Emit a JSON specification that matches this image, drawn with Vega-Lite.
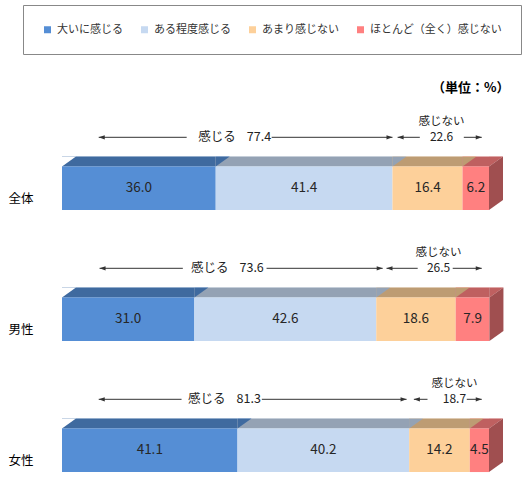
{
  "$schema": "https://vega.github.io/schema/vega-lite/v6.json",
  "autosize": "none",
  "padding": {"left": 62, "top": 100, "right": 34, "bottom": 0},
  "width": 427,
  "height": 385,
  "background": "white",
  "title": {
    "text": "（単位：%）",
    "anchor": "end",
    "fontSize": 13,
    "fontWeight": "bold",
    "font": "Noto Sans CJK JP",
    "color": "#000000",
    "offset": -90,
    "dx": -12
  },
  "config": {
    "view": {"stroke": null},
    "font": "Noto Sans CJK JP"
  },
  "datasets": {
    "bars": [
      {"g": "全体", "c": "大いに感じる", "v": 36.0},
      {"g": "全体", "c": "ある程度感じる", "v": 41.4},
      {"g": "全体", "c": "あまり感じない", "v": 16.4},
      {"g": "全体", "c": "ほとんど（全く）感じない", "v": 6.2},
      {"g": "男性", "c": "大いに感じる", "v": 31.0},
      {"g": "男性", "c": "ある程度感じる", "v": 42.6},
      {"g": "男性", "c": "あまり感じない", "v": 18.6},
      {"g": "男性", "c": "ほとんど（全く）感じない", "v": 7.9},
      {"g": "女性", "c": "大いに感じる", "v": 41.1},
      {"g": "女性", "c": "ある程度感じる", "v": 40.2},
      {"g": "女性", "c": "あまり感じない", "v": 14.2},
      {"g": "女性", "c": "ほとんど（全く）感じない", "v": 4.5}
    ],
    "notes": [
      {"g": "全体", "k": "感じる", "v": 77.4, "a": 8.6, "s1": 29.2, "s2": 49.1, "b": 77.4, "tx": 41.2},
      {"g": "全体", "k": "感じない", "v": 22.6, "a": 78.6, "s1": 83.8, "s2": 94.1, "b": 98.3, "tx": 88.9},
      {"g": "男性", "k": "感じる", "v": 73.6, "a": 8.8, "s1": 28.3, "s2": 47.9, "b": 75.1, "tx": 39.5},
      {"g": "男性", "k": "感じない", "v": 26.5, "a": 76.0, "s1": 83.3, "s2": 91.5, "b": 98.3, "tx": 88.2},
      {"g": "女性", "k": "感じる", "v": 81.3, "a": 8.6, "s1": 28.0, "s2": 46.8, "b": 80.7, "tx": 38.8},
      {"g": "女性", "k": "感じない", "v": 18.7, "a": 82.4, "s1": 85.6, "s2": 94.8, "b": 98.3, "tx": 91.9}
    ]
  },
  "encoding": {
    "y": {
      "field": "g",
      "type": "nominal",
      "scale": {"domain": ["全体", "男性", "女性"], "range": [22.8, 415.8], "paddingInner": 0, "paddingOuter": 0},
      "axis": {
        "title": null,
        "domain": false,
        "ticks": false,
        "grid": false,
        "labelPadding": 29,
        "labelOffset": 10.5,
        "labelFontSize": 12.5,
        "labelFontWeight": "normal",
        "labelFont": "Noto Sans CJK JP",
        "labelColor": "#000000"
      }
    }
  },
  "layer": [
    {
      "data": {"name": "bars"},
      "transform": [
        {"stack": "v", "groupby": ["g"], "as": ["x0", "x1"]}
      ],
      "layer": [
        {
          "mark": {"type": "bar", "height": 10, "yOffset": -26.75},
          "encoding": {
            "x": {"field": "x0", "type": "quantitative", "scale": {"domain": [0, 100]}, "axis": null},
            "x2": {"field": "x1"},
            "color": {
              "field": "c",
              "type": "nominal",
              "scale": {
                "domain": ["大いに感じる", "ある程度感じる", "あまり感じない", "ほとんど（全く）感じない"],
                "range": ["#558ed5", "#c6d9f1", "#fdd09a", "#ff8080"]
              },
              "legend": {
                "orient": "none",
                "legendX": -39,
                "legendY": -95,
                "direction": "horizontal",
                "columns": 4,
                "title": null,
                "symbolType": "square",
                "symbolSize": 49,
                "symbolStrokeWidth": 0,
                "labelFontSize": 11,
                "labelFont": "Noto Sans CJK JP",
                "labelColor": "#333333",
                "labelOffset": 4,
                "padding": 19,
                "columnPadding": 16,
                "strokeColor": "#888888",
                "fillColor": "white"
              }
            }
          }
        },
        {
          "mark": {
            "type": "point",
            "shape": "M-1,0.714L1,-0.714L-1,-0.714Z",
            "size": 196,
            "filled": true,
            "opacity": 1,
            "strokeWidth": 0,
            "xOffset": 7,
            "yOffset": -26.75
          },
          "encoding": {
            "x": {"field": "x1", "type": "quantitative"},
            "color": {"field": "c", "type": "nominal"}
          }
        },
        {
          "mark": {"type": "bar", "height": 10, "yOffset": -26.75, "color": "black", "opacity": 0.25},
          "encoding": {
            "x": {"field": "x0", "type": "quantitative"},
            "x2": {"field": "x1"}
          }
        },
        {
          "transform": [{"filter": "datum.c === 'ほとんど（全く）感じない'"}],
          "mark": {
            "type": "point",
            "shape": "M-1,0.714L1,-0.714L-1,-0.714Z",
            "size": 196,
            "filled": true,
            "color": "black",
            "opacity": 0.25,
            "strokeWidth": 0,
            "xOffset": 7,
            "yOffset": -26.75
          },
          "encoding": {
            "x": {"field": "x1", "type": "quantitative"}
          }
        },
        {
          "transform": [{"filter": "datum.c === '大いに感じる'"}],
          "mark": {
            "type": "point",
            "shape": "M-1,0.714L1,-0.714L-1,-0.714Z",
            "size": 196,
            "filled": true,
            "color": "white",
            "opacity": 1,
            "strokeWidth": 0,
            "xOffset": 7,
            "yOffset": -26.75
          },
          "encoding": {
            "x": {"field": "x0", "type": "quantitative"}
          }
        },
        {
          "mark": {"type": "bar", "height": 43.5},
          "encoding": {
            "x": {"field": "x0", "type": "quantitative"},
            "x2": {"field": "x1"},
            "color": {"field": "c", "type": "nominal"}
          }
        },
        {
          "transform": [{"filter": "datum.c === 'ほとんど（全く）感じない'"}],
          "mark": {
            "type": "point",
            "shape": "M-0.2617,-0.626L0.2617,-1L0.2617,0.626L-0.2617,1Z",
            "size": 2862.25,
            "filled": true,
            "color": "#a04f50",
            "opacity": 1,
            "strokeWidth": 0,
            "xOffset": 7,
            "yOffset": -5
          },
          "encoding": {
            "x": {"field": "x1", "type": "quantitative"}
          }
        },
        {
          "transform": [{"calculate": "(datum.x0 + datum.x1) / 2", "as": "xm"}],
          "mark": {"type": "text", "fontSize": 13.5, "color": "#262626", "font": "Noto Sans CJK JP"},
          "encoding": {
            "x": {"field": "xm", "type": "quantitative"},
            "text": {"field": "v", "type": "quantitative", "format": ".1f"}
          }
        }
      ]
    },
    {
      "data": {"name": "notes"},
      "layer": [
        {
          "mark": {"type": "rule", "color": "#333333", "yOffset": -51},
          "encoding": {
            "x": {"field": "a", "type": "quantitative"},
            "x2": {"field": "s1"}
          }
        },
        {
          "mark": {"type": "rule", "color": "#333333", "yOffset": -51},
          "encoding": {
            "x": {"field": "s2", "type": "quantitative"},
            "x2": {"field": "b"}
          }
        },
        {
          "mark": {
            "type": "point",
            "shape": "M-1,0L1,-0.7L1,0.7Z",
            "size": 36,
            "filled": true,
            "color": "#333333",
            "opacity": 1,
            "strokeWidth": 0,
            "xOffset": 3,
            "yOffset": -51
          },
          "encoding": {"x": {"field": "a", "type": "quantitative"}}
        },
        {
          "mark": {
            "type": "point",
            "shape": "M1,0L-1,-0.7L-1,0.7Z",
            "size": 36,
            "filled": true,
            "color": "#333333",
            "opacity": 1,
            "strokeWidth": 0,
            "xOffset": -3,
            "yOffset": -51
          },
          "encoding": {"x": {"field": "b", "type": "quantitative"}}
        },
        {
          "transform": [{"filter": "datum.k === '感じる'"}],
          "mark": {"type": "text", "fontSize": 12.5, "color": "#222222", "font": "Noto Sans CJK JP", "dx": -21, "yOffset": -51},
          "encoding": {
            "x": {"field": "tx", "type": "quantitative"},
            "text": {"field": "k", "type": "nominal"}
          }
        },
        {
          "transform": [{"filter": "datum.k === '感じる'"}],
          "mark": {"type": "text", "fontSize": 12.5, "color": "#222222", "font": "Noto Sans CJK JP", "dx": 21, "yOffset": -51},
          "encoding": {
            "x": {"field": "tx", "type": "quantitative"},
            "text": {"field": "v", "type": "quantitative", "format": ".1f"}
          }
        },
        {
          "transform": [{"filter": "datum.k === '感じない'"}],
          "mark": {"type": "text", "fontSize": 11.5, "color": "#222222", "font": "Noto Sans CJK JP", "yOffset": -66},
          "encoding": {
            "x": {"field": "tx", "type": "quantitative"},
            "text": {"field": "k", "type": "nominal"}
          }
        },
        {
          "transform": [{"filter": "datum.k === '感じない'"}],
          "mark": {"type": "text", "fontSize": 12, "color": "#222222", "font": "Noto Sans CJK JP", "yOffset": -51},
          "encoding": {
            "x": {"field": "tx", "type": "quantitative"},
            "text": {"field": "v", "type": "quantitative", "format": ".1f"}
          }
        }
      ]
    }
  ]
}
